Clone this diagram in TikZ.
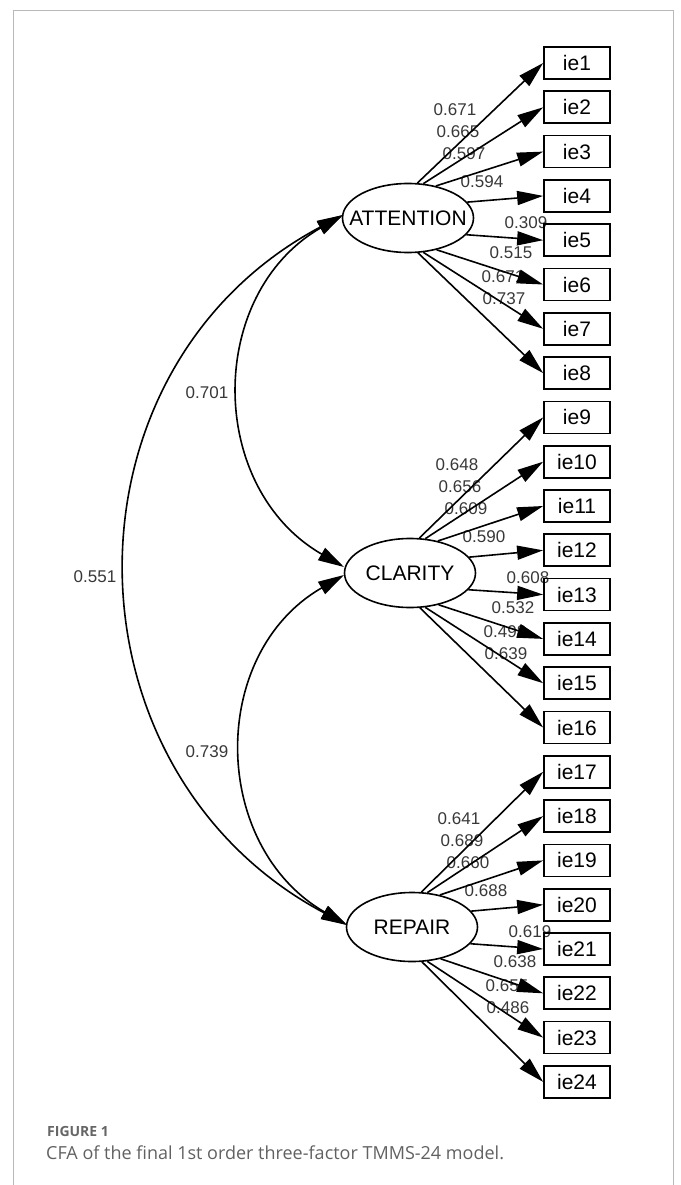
\documentclass[tikz,border=0pt]{standalone}
\usepackage{fontspec}
\setmainfont{Liberation Sans}
\newfontfamily\capfont{Open Sans}
\usetikzlibrary{arrows.meta,shapes.geometric}
\begin{document}
\begin{tikzpicture}[x=1pt,y=-1pt,
  latent/.style={ellipse,draw,line width=1.6pt,minimum width=131pt,minimum height=69pt,inner sep=0pt,font=\fontsize{21}{24}\selectfont},
  obs/.style={rectangle,draw,line width=1.7pt,minimum width=66pt,minimum height=32pt,inner sep=0pt,font=\fontsize{21}{24}\selectfont},
  arr/.style={line width=1.6pt,-{Triangle[length=26pt,width=14pt]}},
  dbl/.style={line width=1.6pt,{Triangle[length=26pt,width=14pt]}-{Triangle[length=26pt,width=14pt]}},
  coef/.style={font=\fontsize{17}{20}\selectfont,text=black!78,inner sep=0pt},
  frame/.style={draw=black!28,line width=1pt},
]
\useasboundingbox (0,0) rectangle (680,1185);
\draw[frame] (13,1195) -- (13,11) -- (673,11) -- (673,1195);

% latent factors
\node[latent] (f1) at (408,218) {\makebox[0pt]{ATTENTION}};
\node[latent] (f2) at (410,573) {\makebox[0pt]{CLARITY}};
\node[latent] (f3) at (412,927) {\makebox[0pt]{REPAIR}};

% loading labels (drawn first, arrows over them)
\foreach \g/\vals in {1/{0.671,0.665,0.597,0.594,0.309,0.515,0.671,0.737},
                      2/{0.648,0.656,0.609,0.590,0.608,0.532,0.498,0.639},
                      3/{0.641,0.689,0.660,0.688,0.619,0.638,0.655,0.486}}{
  \foreach \v [count=\k] in \vals {
    \ifcase\k\or
      \def\dx{47}\def\dy{-108}\or
      \def\dx{50}\def\dy{-86}\or
      \def\dx{56}\def\dy{-64}\or
      \def\dx{74}\def\dy{-36}\or
      \def\dx{118}\def\dy{5}\or
      \def\dx{103}\def\dy{35}\or
      \def\dx{95}\def\dy{59}\or
      \def\dx{96}\def\dy{81}\fi
    \path (f\g) ++(\dx,\dy) node[coef] (l\g-\k) {\v};
  }
}

% observed indicators
\foreach \i in {1,...,24}
  \node[obs] (ie\i) at (577,{63+(\i-1)*44.3}) {ie\i};

% loadings
\foreach \g in {1,2,3}{
  \foreach \ang [count=\k] in {75,66,49,15,-16,-48,-66,-74}{
    \pgfmathtruncatemacro{\n}{(\g-1)*8+\k}
    \draw[arr] (f\g.\ang) -- (ie\n.west);
  }
}

% covariances
\coordinate (a1) at (343,215);
\coordinate (c1) at (344,567);
\coordinate (c2) at (344,575);
\coordinate (r1) at (347,925);
\draw[dbl] (a1) to[out=210,in=150,looseness=1.15] (c1);
\draw[dbl] (c2) to[out=210,in=150,looseness=1.15] (r1);
\draw[dbl] (a1) to[out=208,in=152,looseness=1.18] (r1);
\node[coef] (k1) at (207,393) {0.701};
\node[coef] (k2) at (95,577) {0.551};
\node[coef] (k3) at (207,752) {0.739};

% caption
\node[anchor=west,inner sep=0pt,text=black!60,font=\capfont\bfseries\fontsize{14}{16}\selectfont] (fig) at (47,1131) {FIGURE 1};
\node[anchor=west,inner sep=0pt,text=black!62,font=\capfont\fontsize{18}{21}\selectfont] (cap) at (46,1153) {CFA of the final 1st order three-factor TMMS-24 model.};
\end{tikzpicture}
\end{document}
